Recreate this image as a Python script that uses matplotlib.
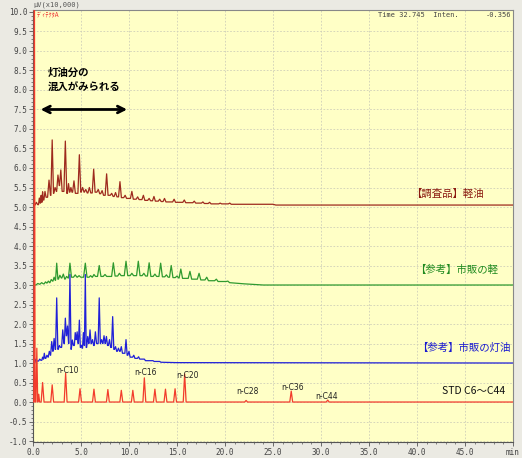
import matplotlib
matplotlib.use('Agg')
import matplotlib.pyplot as plt
from matplotlib.ticker import MultipleLocator, FixedLocator

plt.rcParams['font.family'] = ['Noto Sans CJK JP', 'DejaVu Sans']

# ---- data (x: min, y: uV x10,000) ----
# 【調査品】軽油 (offset 5.0)
gas_start = 5.05
gas_t = [0.35, 0.66, 0.85, 1.0, 1.25, 1.67, 2.0, 2.3, 2.6, 2.9, 3.37, 3.7, 3.95, 4.27, 4.83,
         5.17, 5.5, 5.87, 6.32, 6.8, 7.2, 7.67, 8.2, 8.6, 9.06, 9.6, 10.3, 10.9, 11.5, 12.1,
         12.6, 13.2, 13.7, 14.7, 15.76, 16.8, 17.7, 18.4, 19.5, 20.5]
gas_top = [5.12, 5.23, 5.3, 5.39, 5.4, 5.69, 6.72, 5.5, 5.82, 5.95, 6.69, 5.6, 5.5, 5.67, 6.34,
           5.5, 5.45, 5.5, 5.97, 5.45, 5.42, 5.85, 5.35, 5.37, 5.65, 5.3, 5.4, 5.26, 5.3, 5.22,
           5.27, 5.2, 5.22, 5.2, 5.18, 5.15, 5.13, 5.12, 5.1, 5.1]
gas_base = [5.06, 5.1, 5.12, 5.18, 5.25, 5.3, 5.35, 5.4, 5.55, 5.4, 5.35, 5.38, 5.38, 5.35, 5.38,
            5.38, 5.36, 5.36, 5.38, 5.34, 5.3, 5.3, 5.27, 5.26, 5.24, 5.22, 5.2, 5.19, 5.17, 5.16,
            5.15, 5.14, 5.13, 5.12, 5.11, 5.1, 5.09, 5.08, 5.08, 5.07]
gas_tail_t = [25.0, 25.3, 50.0]
gas_tail_v = [5.07, 5.05, 5.05]

# 【参考】市販の軽 (offset 3.0)
diesel_start = 3.0
diesel_t = [0.5, 0.9, 1.3, 1.6, 1.9, 2.2, 2.47, 2.8, 3.16, 3.5, 3.85, 4.4, 4.8, 5.45, 6.0,
            6.35, 6.9, 7.5, 8.37, 9.0, 9.69, 10.3, 10.97, 11.55, 12.1, 12.7, 13.3, 13.9, 14.4,
            15.0, 15.4, 16.35, 17.3, 18.1, 19.1, 20.3]
diesel_top = [3.04, 3.06, 3.08, 3.1, 3.14, 3.2, 3.56, 3.25, 3.28, 3.22, 3.56, 3.26, 3.24, 3.56,
              3.24, 3.27, 3.5, 3.27, 3.57, 3.3, 3.61, 3.3, 3.61, 3.3, 3.57, 3.28, 3.56, 3.26,
              3.5, 3.23, 3.41, 3.35, 3.3, 3.2, 3.15, 3.1]
diesel_base = [3.02, 3.03, 3.05, 3.06, 3.1, 3.12, 3.15, 3.18, 3.15, 3.18, 3.2, 3.2, 3.2, 3.2,
               3.2, 3.22, 3.22, 3.22, 3.23, 3.24, 3.24, 3.24, 3.24, 3.23, 3.22, 3.22, 3.21,
               3.2, 3.19, 3.18, 3.17, 3.15, 3.13, 3.11, 3.09, 3.06]
diesel_tail_t = [22.0, 24.0, 50.0]
diesel_tail_v = [3.03, 3.0, 3.0]

# 【参考】市販の灯油 (offset 1.0)
kero_start = 1.0
kero_t = [0.3, 0.7, 1.0, 1.18, 1.45, 1.7, 1.95, 2.2, 2.47, 2.75, 3.1, 3.37, 3.6, 3.85, 4.1,
          4.4, 4.6, 4.83, 5.05, 5.25, 5.45, 5.7, 5.94, 6.2, 6.5, 6.9, 7.15, 7.4, 7.65, 7.97,
          8.3, 8.6, 8.9, 9.2, 9.69, 10.0, 10.5, 11.0, 11.6, 12.5, 13.2]
kero_top = [1.1, 1.1, 1.15, 1.25, 1.2, 1.3, 1.55, 1.63, 2.67, 1.45, 1.85, 2.15, 1.95, 3.27, 1.59,
            1.78, 1.8, 2.1, 1.45, 1.78, 3.27, 1.68, 1.85, 1.6, 1.8, 2.67, 1.6, 1.7, 1.68, 1.6,
            2.19, 1.42, 1.38, 1.42, 1.6, 1.3, 1.2, 1.16, 1.1, 1.06, 1.04]
kero_base = [1.05, 1.07, 1.1, 1.12, 1.15, 1.2, 1.3, 1.35, 1.35, 1.4, 1.5, 1.7, 1.5, 1.35, 1.45,
             1.6, 1.5, 1.4, 1.38, 1.45, 1.4, 1.5, 1.5, 1.45, 1.5, 1.5, 1.5, 1.5, 1.45, 1.4,
             1.35, 1.3, 1.3, 1.25, 1.2, 1.15, 1.12, 1.1, 1.06, 1.04, 1.02]
kero_tail_t = [15.0, 50.0]
kero_tail_v = [1.01, 1.0]

# STD C6~C44 (offset 0.0)
std_start = 0.0
std_t = [0.15, 0.4, 0.6, 1.0, 2.0, 3.4, 4.9, 6.35, 7.8, 9.2, 10.4, 11.6, 12.7, 13.8, 14.8,
         15.8, 22.2, 26.9, 30.7]
std_top = [10.6, 1.38, 0.2, 0.5, 0.44, 0.74, 0.34, 0.33, 0.32, 0.3, 0.3, 0.62, 0.33, 0.33,
           0.34, 0.72, 0.04, 0.28, 0.05]
std_tail_t = [50.0]
std_tail_v = [0.0]

std_labels = ['n-C10', 'n-C16', 'n-C20', 'n-C28', 'n-C36', 'n-C44']
std_label_t = [3.6, 11.7, 16.1, 22.3, 27.0, 30.6]
std_label_y = [0.82, 0.75, 0.67, 0.28, 0.38, 0.14]

trace_names = ['【調査品】軽油', '【参考】市販の軽', '【参考】市販の灯油', 'STD C6～C44']
trace_colors = ['#9e2a1e', '#2f9a2f', '#2020d8', '#f23c2c']
name_colors = ['#8b1a10', '#1f8a1f', '#1a1ad0', '#111111']
name_x = [47.0, 48.4, 49.7, 49.2]
name_y = [5.33, 3.38, 1.38, 0.28]


def build_trace(start, pk_t, pk_top, pk_base, tail_t, tail_v, w):
    xs, ys = [0.0], [start]
    prev = start
    n = len(pk_t)
    for i in range(n):
        t = pk_t[i]
        left = pk_t[i - 1] if i > 0 else 0.0
        right = pk_t[i + 1] if i + 1 < n else tail_t[0]
        hw = min(w, (t - left) / 2.2, (right - t) / 2.2)
        xs += [t - hw, t, t + hw]
        ys += [prev, pk_top[i], pk_base[i]]
        prev = pk_base[i]
    xs += tail_t
    ys += tail_v
    return xs, ys


fig = plt.figure(figsize=(5.22, 4.58), dpi=100, facecolor='#ebeae3')
ax = fig.add_axes([0.0632, 0.0345, 0.9195, 0.9436])
ax.set_facecolor('#ffffc6')

ax.set_xlim(0, 50)
ax.set_ylim(-1.03, 10.05)

# grid
for gx in range(5, 50, 5):
    ax.axvline(gx, color='#cfcfb8', lw=0.6, ls=(0, (2, 2)), zorder=0)
for i in range(-2, 20):
    ax.axhline(i * 0.5, color='#cfcfb8', lw=0.6, ls=(0, (2, 2)), zorder=0)

traces = [
    build_trace(gas_start, gas_t, gas_top, gas_base, gas_tail_t, gas_tail_v, 0.15),
    build_trace(diesel_start, diesel_t, diesel_top, diesel_base, diesel_tail_t, diesel_tail_v, 0.18),
    build_trace(kero_start, kero_t, kero_top, kero_base, kero_tail_t, kero_tail_v, 0.12),
    build_trace(std_start, std_t, std_top, [std_start] * len(std_t), std_tail_t, std_tail_v, 0.15),
]
for (xs, ys), c in zip(traces, trace_colors):
    ax.plot(xs, ys, color=c, lw=0.9, zorder=3)

# trace names on the right
for name, c, x, y in zip(trace_names, name_colors, name_x, name_y):
    ax.text(x, y, name, color=c, fontsize=7.5, ha='right', va='center')

# STD peak labels
for lab, t, y in zip(std_labels, std_label_t, std_label_y):
    ax.text(t, y, lab, fontsize=5.5, ha='center', va='center', color='#222222',
            family=['DejaVu Sans'])

# annotation
ax.text(1.5, 8.25, '灯油分の\n混入がみられる', fontsize=7.5, fontweight='bold',
        ha='left', va='center', linespacing=1.6)
ax.annotate('', xy=(0.5, 7.5), xytext=(10.1, 7.5),
            arrowprops=dict(arrowstyle='<->', lw=2, color='black', mutation_scale=12))

# axes styling
ax.xaxis.set_major_locator(FixedLocator([0, 5, 10, 15, 20, 25, 30, 35, 40, 45, 50]))
ax.set_xticklabels(['0.0', '5.0', '10.0', '15.0', '20.0', '25.0', '30.0', '35.0',
                    '40.0', '45.0', 'min'])
ax.xaxis.set_minor_locator(MultipleLocator(1))
ax.yaxis.set_major_locator(MultipleLocator(0.5))
ax.yaxis.set_minor_locator(MultipleLocator(0.1))
ax.yaxis.set_major_formatter(plt.FormatStrFormatter('%.1f'))
ax.tick_params(which='both', direction='out', labelsize=5.5, colors='#555555',
               labelcolor='#444444', pad=1)
ax.tick_params(which='major', length=3, width=0.6)
ax.tick_params(which='minor', length=1.5, width=0.5)
for lab in ax.get_xticklabels() + ax.get_yticklabels():
    lab.set_family('DejaVu Sans Mono')
for s in ['top', 'right']:
    ax.spines[s].set_color('#888888')
for s in ['left', 'bottom']:
    ax.spines[s].set_color('#555555')
    ax.spines[s].set_linewidth(0.8)

# header texts
fig.text(33 / 522, 1 - 5 / 458, 'μV(x10,000)', fontsize=5, color='#555555',
         family=['DejaVu Sans Mono'], ha='left', va='center')
fig.text(37 / 522, 1 - 15 / 458, 'ﾃﾞｨﾃｸﾀA', fontsize=4.5, color='#ee3333',
         ha='left', va='center')
fig.text(378 / 522, 1 - 15 / 458, 'Time 32.745  Inten.', fontsize=5, color='#444444',
         family=['DejaVu Sans Mono'], ha='left', va='center')
fig.text(511 / 522, 1 - 15 / 458, '-0.356', fontsize=5, color='#444444',
         family=['DejaVu Sans Mono'], ha='right', va='center')

fig.savefig('out.png', dpi=100, facecolor=fig.get_facecolor())
